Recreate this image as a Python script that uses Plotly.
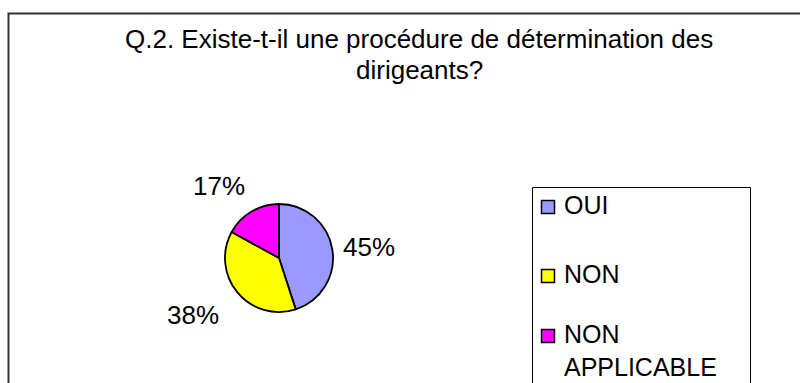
import math
import plotly.graph_objects as go

# Survey answers and their shares (%)
labels = ["OUI", "NON", "NON APPLICABLE"]
legend_text = ["OUI", "NON", "NON<br>APPLICABLE"]
values = [45, 38, 17]
colors = ["#9999FF", "#FFFF00", "#FF00FF"]

title_lines = ["Q.2. Existe-t-il une procédure de détermination des", "dirigeants?"]

W, H = 800, 383
FONT = "Liberation Sans, Arial, sans-serif"


def px(x):
    return x / W


def py(y):
    return 1 - y / H


# pie placement (pixels)
CX, CY, R = 279, 258, 54

fig = go.Figure()

fig.add_trace(go.Pie(
    labels=labels,
    values=values,
    marker=dict(colors=colors, line=dict(color="black", width=1.8)),
    sort=False,
    direction="clockwise",
    rotation=0,
    textinfo="none",
    domain=dict(x=[px(CX - R), px(CX + R)], y=[py(CY + R), py(CY - R)]),
    showlegend=False,
    hoverinfo="label+percent",
))

shapes = []
annotations = []

# Percentage labels placed around the pie at each slice's mid-angle
total = sum(values)
cum = 0
LX, LY = 100, 86
for v in values:
    mid = (cum + v / 2) / total * 2 * math.pi
    cum += v
    ux, uy = math.sin(mid), -math.cos(mid)
    annotations.append(dict(xref="paper", yref="paper",
                            x=px(CX - 9 + LX * ux), y=py(CY + 2 + LY * uy),
                            text=f"{round(v / total * 100)}%", showarrow=False,
                            xanchor="center", yanchor="middle",
                            font=dict(family=FONT, size=26, color="black")))

# Outer chart frame (runs past the right and bottom edges)
shapes.append(dict(type="rect", xref="paper", yref="paper",
                   x0=px(8.5), y0=py(13.5), x1=px(830), y1=py(420),
                   line=dict(color="#333333", width=2), fillcolor="rgba(0,0,0,0)"))

# Title
for i, line in enumerate(title_lines):
    annotations.append(dict(xref="paper", yref="paper", x=px(419), y=py(39 + 31 * i),
                            text=line, showarrow=False, xanchor="center", yanchor="middle",
                            font=dict(family=FONT, size=26, color="black")))

# Legend box
shapes.append(dict(type="rect", xref="paper", yref="paper",
                   x0=px(532.5), y0=py(187.5), x1=px(750.5), y1=py(420),
                   line=dict(color="black", width=1), fillcolor="white"))

LEG_SIZE = 25
LINE_H = 1.3 * LEG_SIZE
item_y = [207, 276, 336]
for lab, col, yc in zip(legend_text, colors, item_y):
    shapes.append(dict(type="rect", xref="paper", yref="paper",
                       x0=px(541.5), y0=py(yc + 6.5), x1=px(554.5), y1=py(yc - 6.5),
                       line=dict(color="black", width=1.5), fillcolor=col))
    # text block anchored so that its first line is centred on the marker
    annotations.append(dict(xref="paper", yref="paper", x=px(563), y=py(yc - LINE_H / 2 - 1),
                            text=lab, showarrow=False, xanchor="left", yanchor="top",
                            align="left", borderpad=0,
                            font=dict(family=FONT, size=LEG_SIZE, color="black")))

fig.update_layout(
    width=W, height=H,
    margin=dict(l=0, r=0, t=0, b=0),
    paper_bgcolor="white",
    plot_bgcolor="white",
    shapes=shapes,
    annotations=annotations,
    font=dict(family=FONT, color="black"),
)

fig.write_html("out.html")
